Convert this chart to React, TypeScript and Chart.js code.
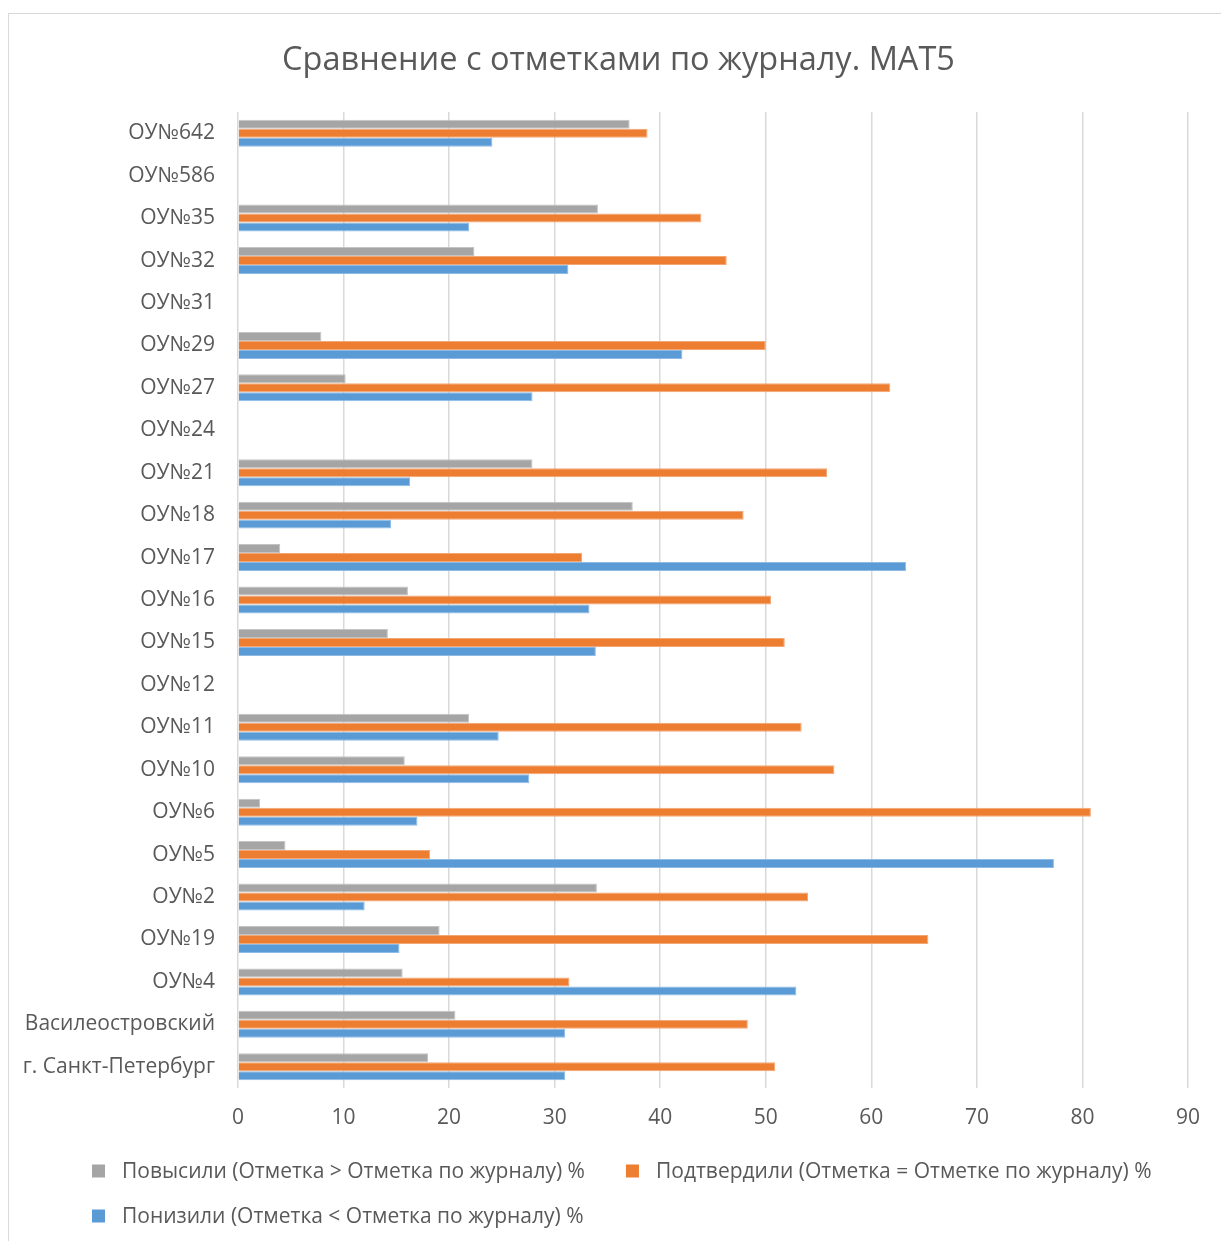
import React, { useEffect, useRef } from "react";
import { Chart, registerables } from "chart.js";

Chart.register(...registerables);

const title = "Сравнение с отметками по журналу. МАТ5";

const categories = [
  "ОУ№642", "ОУ№586", "ОУ№35", "ОУ№32", "ОУ№31", "ОУ№29", "ОУ№27", "ОУ№24",
  "ОУ№21", "ОУ№18", "ОУ№17", "ОУ№16", "ОУ№15", "ОУ№12", "ОУ№11", "ОУ№10",
  "ОУ№6", "ОУ№5", "ОУ№2", "ОУ№19", "ОУ№4", "Василеостровский", "г. Санкт-Петербург",
];

const seriesNames = [
  "Повысили (Отметка > Отметка по журналу) %",
  "Подтвердили (Отметка = Отметке по журналу) %",
  "Понизили (Отметка < Отметка по журналу) %",
];

const raised = [37.1, null, 34.1, 22.4, null, 7.9, 10.2, null, 27.9, 37.4, 4.0, 16.1, 14.2, null, 21.9, 15.8, 2.1, 4.5, 34.0, 19.1, 15.6, 20.6, 18.0];
const confirmed = [38.8, null, 43.9, 46.3, null, 50.0, 61.8, null, 55.8, 47.9, 32.6, 50.5, 51.8, null, 53.4, 56.5, 80.8, 18.2, 54.0, 65.4, 31.4, 48.3, 50.9];
const lowered = [24.1, null, 21.9, 31.3, null, 42.1, 27.9, null, 16.3, 14.5, 63.3, 33.3, 33.9, null, 24.7, 27.6, 17.0, 77.3, 12.0, 15.3, 52.9, 31.0, 31.0];

const xTicks = [0, 10, 20, 30, 40, 50, 60, 70, 80, 90];

const COLORS = ["#a5a5a5", "#ed7d31", "#5b9bd5"];
const BORDERS = ["#c4c4c4", "#f3a774", "#8dbbe6"];
const TEXT = "#595959";
const FONT = '"Open Sans", "Noto Sans", sans-serif';

const legendPlugin = {
  id: "excelLegend",
  afterDraw(chart: any) {
    const ctx = chart.ctx as CanvasRenderingContext2D;
    const ds = chart.data.datasets;
    ctx.save();
    ctx.font = `21px ${FONT}`;
    ctx.textBaseline = "middle";
    ctx.textAlign = "left";
    const box = 13;
    const startX = 92;
    const row1 = 1171;
    const row2 = 1216;
    const drawItem = (i: number, x: number, y: number) => {
      ctx.fillStyle = ds[i].backgroundColor;
      ctx.fillRect(x, y - box / 2, box, box);
      ctx.fillStyle = TEXT;
      ctx.fillText(ds[i].label, x + 30, y + 1);
      return x + 30 + ctx.measureText(ds[i].label).width;
    };
    const end0 = drawItem(0, startX, row1);
    drawItem(1, end0 + 41, row1);
    drawItem(2, startX, row2);
    ctx.restore();
  },
};

export default function App() {
  const ref = useRef<HTMLCanvasElement>(null);

  useEffect(() => {
    if (!ref.current) return;
    Chart.defaults.font.family = FONT;
    const data = [raised, confirmed, lowered];
    const chart = new Chart(ref.current, {
      type: "bar",
      data: {
        labels: categories,
        datasets: seriesNames.map((name, i) => ({
          label: name,
          data: data[i] as any,
          backgroundColor: COLORS[i],
          borderColor: BORDERS[i],
          borderWidth: 1,
          borderSkipped: "start" as const,
          categoryPercentage: 0.636,
          barPercentage: 1.0,
          yAxisID: "y",
          xAxisID: "x",
        })),
      },
      options: {
        indexAxis: "y",
        responsive: false,
        animation: false,
        devicePixelRatio: 1,
        layout: { padding: { left: 0, right: 0, top: 0, bottom: 109 } },
        plugins: {
          legend: { display: false },
          tooltip: { enabled: false },
          title: {
            display: true,
            text: title,
            color: TEXT,
            font: { size: 32.5, weight: "normal", family: FONT },
            padding: { top: 41, bottom: 32 },
          },
        },
        scales: {
          x: {
            type: "linear",
            min: 0,
            max: 90,
            afterBuildTicks: (scale: any) => {
              scale.ticks = xTicks.map((v) => ({ value: v }));
            },
            afterFit: (scale: any) => {
              scale.height = 44;
            },
            grid: { color: "#d9d9d9", lineWidth: 1.5, drawTicks: false },
            border: { display: false },
            ticks: { color: TEXT, font: { size: 21 }, padding: 17 },
          },
          y: {
            type: "category",
            position: "left",
            afterFit: (scale: any) => {
              scale.width = 238;
            },
            grid: { display: false, drawTicks: false },
            border: { display: false },
            ticks: { color: TEXT, font: { size: 21 }, padding: 23, autoSkip: false },
          },
          yRightSpace: {
            type: "category",
            position: "right",
            afterFit: (scale: any) => {
              scale.width = 49;
            },
            grid: { display: false, drawTicks: false },
            border: { display: false },
            ticks: { display: false },
          },
        },
      },
      plugins: [legendPlugin],
    });
    return () => chart.destroy();
  }, []);

  return (
    <div>
      <div
        style={{
          position: "fixed",
          left: 8,
          top: 13,
          width: 1240,
          height: 1260,
          border: "1px solid #d9d9d9",
          boxSizing: "border-box",
          background: "#fff",
        }}
      />
      <canvas
        ref={ref}
        width={1237}
        height={1241}
        style={{ position: "fixed", left: 0, top: 0, width: 1237, height: 1241 }}
      />
    </div>
  );
}
